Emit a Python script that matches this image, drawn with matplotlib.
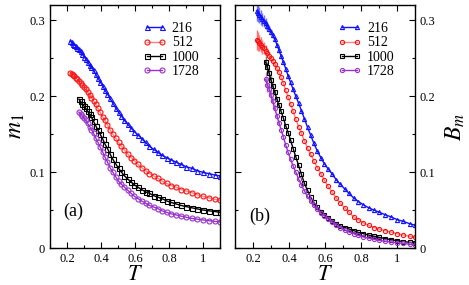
import numpy as np
import matplotlib
matplotlib.use("Agg")
import matplotlib.pyplot as plt
from matplotlib.ticker import MultipleLocator, FormatStrFormatter

plt.rcParams['font.family'] = ['Liberation Serif', 'DejaVu Serif']
plt.rcParams['mathtext.fontset'] = 'stix'

# temperature grid (1000 and 1728 start at T = 0.27, i.e. index 6)
T = [0.220, 0.228, 0.236, 0.244, 0.252, 0.261, 0.270, 0.280, 0.290, 0.300,
     0.310, 0.321, 0.333, 0.344, 0.356, 0.369, 0.382, 0.395, 0.409, 0.423,
     0.438, 0.453, 0.469, 0.486, 0.503, 0.520, 0.538, 0.557, 0.577, 0.597,
     0.618, 0.639, 0.662, 0.685, 0.709, 0.734, 0.759, 0.786, 0.813, 0.842,
     0.871, 0.902, 0.933, 0.966, 1.000, 1.035, 1.071, 1.100]
start_big = 6

sizes = ["216", "512", "1000", "1728"]

# panel (a): m_1
m1_216 = [0.272, 0.271, 0.269, 0.268, 0.266, 0.264, 0.262, 0.259, 0.255, 0.252,
          0.249, 0.245, 0.241, 0.238, 0.234, 0.229, 0.224, 0.219, 0.214, 0.208,
          0.203, 0.197, 0.191, 0.185, 0.179, 0.174, 0.168, 0.163, 0.158, 0.153,
          0.149, 0.144, 0.139, 0.134, 0.130, 0.126, 0.122, 0.119, 0.116, 0.113,
          0.110, 0.107, 0.105, 0.102, 0.0995, 0.098, 0.096, 0.095]
m1_512 = [0.231, 0.229, 0.228, 0.226, 0.224, 0.222, 0.220, 0.217, 0.215, 0.212,
          0.209, 0.205, 0.201, 0.198, 0.194, 0.189, 0.184, 0.179, 0.173, 0.168,
          0.162, 0.156, 0.150, 0.145, 0.139, 0.134, 0.129, 0.124, 0.119, 0.115,
          0.110, 0.106, 0.102, 0.098, 0.095, 0.092, 0.088, 0.085, 0.082, 0.080,
          0.077, 0.075, 0.073, 0.070, 0.068, 0.066, 0.064, 0.063]
m1_1000 = [0.196, 0.193, 0.190, 0.187, 0.184, 0.180, 0.176, 0.172, 0.167, 0.161,
           0.155, 0.150, 0.144, 0.137, 0.131, 0.124, 0.117, 0.111, 0.105, 0.100,
           0.095, 0.091, 0.087, 0.083, 0.080, 0.077, 0.074, 0.072, 0.069, 0.067,
           0.065, 0.062, 0.060, 0.058, 0.056, 0.0545, 0.053, 0.0515, 0.050, 0.049,
           0.048, 0.047]
m1_1728 = [0.179, 0.177, 0.174, 0.171, 0.168, 0.164, 0.160, 0.156, 0.151, 0.145,
           0.139, 0.133, 0.127, 0.120, 0.113, 0.106, 0.100, 0.094, 0.088, 0.084,
           0.080, 0.076, 0.072, 0.068, 0.065, 0.062, 0.059, 0.056, 0.054, 0.052,
           0.049, 0.047, 0.045, 0.0435, 0.042, 0.0405, 0.039, 0.038, 0.037, 0.036,
           0.035, 0.0345]

# panel (b): B_m
bm_216 = [0.312, 0.309, 0.307, 0.304, 0.301, 0.299, 0.296, 0.292, 0.289, 0.285,
          0.280, 0.275, 0.268, 0.261, 0.253, 0.245, 0.236, 0.227, 0.218, 0.209,
          0.200, 0.191, 0.181, 0.170, 0.159, 0.149, 0.138, 0.128, 0.119, 0.111,
          0.104, 0.098, 0.090, 0.084, 0.078, 0.072, 0.066, 0.061, 0.057, 0.053,
          0.050, 0.047, 0.044, 0.041, 0.0375, 0.035, 0.032, 0.030]
bm_512 = [0.274, 0.272, 0.270, 0.268, 0.265, 0.263, 0.260, 0.257, 0.253, 0.250,
          0.246, 0.242, 0.237, 0.232, 0.225, 0.217, 0.208, 0.199, 0.190, 0.180,
          0.170, 0.160, 0.151, 0.141, 0.132, 0.124, 0.115, 0.106, 0.098, 0.089,
          0.081, 0.074, 0.066, 0.059, 0.053, 0.047, 0.041, 0.037, 0.033, 0.030,
          0.027, 0.025, 0.023, 0.021, 0.019, 0.017, 0.0155, 0.014]
bm_1000 = [0.245, 0.238, 0.230, 0.221, 0.213, 0.205, 0.196, 0.188, 0.180, 0.171,
           0.161, 0.152, 0.142, 0.131, 0.120, 0.109, 0.097, 0.085, 0.076, 0.067,
           0.060, 0.054, 0.048, 0.044, 0.039, 0.036, 0.032, 0.029, 0.027, 0.025,
           0.023, 0.0205, 0.019, 0.017, 0.0155, 0.014, 0.0125, 0.011, 0.0097, 0.0085,
           0.0075, 0.0065]
bm_1728 = [0.222, 0.215, 0.209, 0.201, 0.193, 0.184, 0.174, 0.165, 0.156, 0.146,
           0.136, 0.126, 0.117, 0.108, 0.100, 0.091, 0.083, 0.075, 0.068, 0.062,
           0.056, 0.051, 0.046, 0.042, 0.038, 0.034, 0.030, 0.027, 0.024, 0.021,
           0.019, 0.0165, 0.0145, 0.013, 0.0115, 0.010, 0.009, 0.008, 0.007, 0.006,
           0.005, 0.0045]

# error bars of B_m at the lowest temperatures
err_216 = [0.013, 0.012, 0.011, 0.010, 0.009, 0.008, 0.007, 0.006, 0.005, 0.004, 0.003, 0.002]
err_512 = [0.013, 0.012, 0.011, 0.010, 0.009, 0.008, 0.007, 0.006, 0.005, 0.004, 0.003, 0.002]
err_1000 = [0.008, 0.007, 0.006, 0.005, 0.004, 0.003, 0.002, 0.002]
err_1728 = [0.010, 0.009, 0.008, 0.007, 0.006, 0.005, 0.004, 0.003]

styles = [
    dict(marker='^', color='#1010ff', line='#1010ff', err='#7070ff'),
    dict(marker='o', color='#ff1010', line='#ff8080', err='#ff7070'),
    dict(marker='s', color='#000000', line='#000000', err='#777777'),
    dict(marker='o', color='#9933cc', line='#9933cc', err='#bb88e0'),
]

fig = plt.figure(figsize=(4.69, 2.85), dpi=100)
ax1 = fig.add_axes([0.1066, 0.1298, 0.3625, 0.8526])
ax2 = fig.add_axes([0.501, 0.1298, 0.3838, 0.8526])


def draw(ax, series, errs, ms):
    for i, (vals, st) in enumerate(zip(series, styles)):
        t = T if len(vals) == len(T) else T[start_big:]
        if errs is not None:
            e = errs[i]
            ax.errorbar(t[:len(e)], vals[:len(e)], yerr=e, fmt='none',
                        ecolor=st['err'], elinewidth=1.0, capsize=0, zorder=1)
        ax.plot(t, vals, color=st['line'], lw=1.0, marker=st['marker'],
                ms=ms, mfc='none', mec=st['color'], mew=0.8,
                label=sizes[i], zorder=2)
    ax.set_xlim(0.1, 1.1)
    ax.set_ylim(0, 0.32)
    ax.xaxis.set_major_locator(MultipleLocator(0.2))
    ax.xaxis.set_minor_locator(MultipleLocator(0.1))
    ax.yaxis.set_major_locator(MultipleLocator(0.1))
    ax.yaxis.set_minor_locator(MultipleLocator(0.05))
    ax.xaxis.set_major_formatter(FormatStrFormatter('%g'))
    ax.yaxis.set_major_formatter(FormatStrFormatter('%g'))
    ax.tick_params(which='both', direction='in', top=True, bottom=True,
                   left=True, right=True, labelsize=9, width=0.8)
    ax.tick_params(which='major', length=4)
    ax.tick_params(which='minor', length=2.5)
    for s in ax.spines.values():
        s.set_linewidth(1.0)
    ax.set_xlabel(r'$T$', fontsize=16, labelpad=1)
    ax.legend(loc='upper left', frameon=False, fontsize=10,
              numpoints=2, handlelength=1.7, handletextpad=0.4,
              labelspacing=0.1, borderpad=0, borderaxespad=0)


draw(ax1, [m1_216, m1_512, m1_1000, m1_1728], None, 3.6)
ax1.get_legend().set_bbox_to_anchor((0.545, 0.93), transform=ax1.transAxes)
ax1.set_ylabel(r'$m_1$', fontsize=17, labelpad=2)
ax1.text(0.08, 0.13, '(a)', transform=ax1.transAxes, fontsize=13)

draw(ax2, [bm_216, bm_512, bm_1000, bm_1728],
     [err_216, err_512, err_1000, err_1728], 3.0)
ax2.get_legend().set_bbox_to_anchor((0.572, 0.93), transform=ax2.transAxes)
ax2.yaxis.set_label_position('right')
ax2.tick_params(axis='y', labelleft=False, labelright=True)
ax2.set_ylabel(r'$B_m$', fontsize=17, labelpad=6, rotation=90)
ax2.text(0.08, 0.11, '(b)', transform=ax2.transAxes, fontsize=13)

fig.savefig('out.png', dpi=100)
